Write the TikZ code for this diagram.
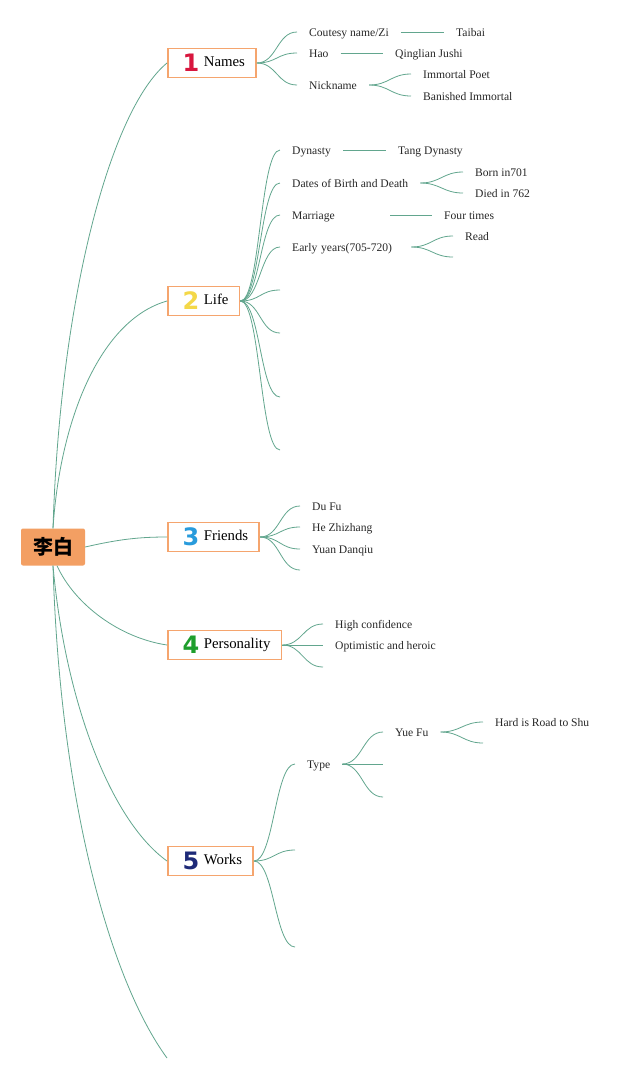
\documentclass[tikz,border=0pt]{standalone}
\usepackage{fontspec}
\setmainfont{Liberation Serif}
\newfontfamily\cjk{Noto Sans CJK SC}
\newfontfamily\numfont{DejaVu Sans}
\usetikzlibrary{positioning}

\definecolor{linkcol}{RGB}{98,166,142}
\definecolor{rootcol}{RGB}{243,159,99}
\definecolor{boxcol}{RGB}{245,165,110}
\definecolor{txtcol}{RGB}{40,40,40}
\definecolor{onecol}{RGB}{216,22,62}
\definecolor{twocol}{RGB}{244,216,72}
\definecolor{threecol}{RGB}{40,155,220}
\definecolor{fourcol}{RGB}{30,158,44}
\definecolor{fivecol}{RGB}{30,42,120}

\newcommand{\tnum}[2]{\hspace{5pt}\makebox[14pt]{\raisebox{-5pt}{\numfont\bfseries\fontsize{24}{24}\selectfont\textcolor{#1}{#2}}}\hspace{6pt}}

\begin{document}
\begin{tikzpicture}[x=1pt,y=1pt,
		link/.style={draw=linkcol,line width=0.8pt},
		root/.style={fill=rootcol,rounded corners=2pt,minimum width=64pt,minimum height=37pt,inner sep=0pt,font=\cjk\bfseries\fontsize{20}{20}\selectfont},
		topic/.style={draw=boxcol,line width=1.7pt,fill=white,anchor=west,minimum height=29pt,inner xsep=11pt,inner ysep=2pt,font=\fontsize{14.8}{16}\selectfont},
		item/.style={anchor=west,inner xsep=12pt,inner ysep=1pt,text height=10.5pt,text depth=1.5pt,text=txtcol,font=\fontsize{11.6}{13}\selectfont},
		wide/.style={text width=#1,align=left}]
		
		\path[fill=white,use as bounding box] (0,0) rectangle (640,-1080);
		
		%root
		\node[root] (root) at (53,-547) {李白};
		
		%topics
		\node[topic] (names) at (167,-63) {\tnum{onecol}{1}Names};
		\node[topic] (life) at (167,-301) {\tnum{twocol}{2}Life};
		\node[topic] (friends) at (167,-537) {\tnum{threecol}{3}Friends};
		\node[topic] (person) at (167,-645) {\tnum{fourcol}{4}Personality};
		\node[topic] (works) at (167,-861) {\tnum{fivecol}{5}Works};
		\coordinate (bottom) at (167,-1058);
		
		%root to topics
		\draw[link] (root.north) .. controls (60,-300) and (110,-110) .. (names.west);
		\draw[link] (root.north) .. controls (60,-420) and (100,-320) .. (life.west);
		\draw[link] (root.east) .. controls (120,-539) and (140,-537) .. (friends.west);
		\draw[link] ([xshift=4pt]root.south) .. controls (75,-605) and (120,-638) .. (person.west);
		\draw[link] (root.south) .. controls (65,-700) and (110,-820) .. (works.west);
		\draw[link] (root.south) .. controls (60,-800) and (110,-980) .. (bottom);
		
		%Names
		\node[item] (cz) at (297,-32) {Coutesy name/Zi};
		\node[item] (hao) at (297,-53) {Hao};
		\node[item] (nick) at (297,-85) {Nickname};
		\node[item] (taibai) at (444,-32) {Taibai};
		\node[item] (qinglian) at (383,-53) {Qinglian Jushi};
		\node[item] (poet) at (411,-74) {Immortal Poet};
		\node[item] (banished) at (411,-96) {Banished Immortal};
		\foreach \c in {cz,hao,nick}
			\draw[link] (names.east) .. controls +(20,0) and +(-20,0) .. (\c.west);
		\draw[link] (cz) -- (taibai);
		\draw[link] (hao) -- (qinglian);
		\foreach \c in {poet,banished}
			\draw[link] (nick.east) .. controls +(20,0) and +(-20,0) .. (\c.west);
		
		%Life
		\node[item] (dynasty) at (280,-150) {Dynasty};
		\node[item] (dates) at (280,-183) {Dates of Birth and Death};
		\node[item,wide=86pt] (marriage) at (280,-215) {Marriage};
		\node[item,wide=107pt] (early) at (280,-247) {Early years(705-720)};
		\coordinate (l5) at (280,-290);
		\coordinate (l6) at (280,-333);
		\coordinate (l7) at (280,-397);
		\coordinate (l8) at (280,-450);
		\node[item] (tang) at (386,-150) {Tang Dynasty};
		\node[item] (born) at (463,-172) {Born in701};
		\node[item] (died) at (463,-193) {Died in 762};
		\node[item] (four) at (432,-215) {Four times};
		\node[item] (read) at (453,-236) {Read};
		\coordinate (r2) at (453,-257);
		\foreach \c in {dynasty,dates,marriage,early}
			\draw[link] (life.east) .. controls +(20,0) and +(-20,0) .. (\c.west);
		\foreach \c in {l5,l6,l7,l8}
			\draw[link] (life.east) .. controls +(20,0) and +(-20,0) .. (\c);
		\draw[link] (dynasty) -- (tang);
		\draw[link] (marriage) -- (four);
		\foreach \c in {born,died}
			\draw[link] (dates.east) .. controls +(20,0) and +(-20,0) .. (\c.west);
		\draw[link] (early.east) .. controls +(20,0) and +(-20,0) .. (read.west);
		\draw[link] (early.east) .. controls +(20,0) and +(-20,0) .. (r2);
		
		%Friends
		\node[item] (dufu) at (300,-506) {Du Fu};
		\node[item] (hezz) at (300,-527) {He Zhizhang};
		\node[item] (yuan) at (300,-549) {Yuan Danqiu};
		\coordinate (f4) at (300,-570);
		\foreach \c in {dufu,hezz,yuan}
			\draw[link] (friends.east) .. controls +(20,0) and +(-20,0) .. (\c.west);
		\draw[link] (friends.east) .. controls +(20,0) and +(-20,0) .. (f4);
		
		%Personality
		\node[item] (high) at (323,-624) {High confidence};
		\node[item] (opt) at (323,-645) {Optimistic and heroic};
		\coordinate (p3) at (323,-667);
		\foreach \c in {high,opt}
			\draw[link] (person.east) .. controls +(20,0) and +(-20,0) .. (\c.west);
		\draw[link] (person.east) .. controls +(20,0) and +(-20,0) .. (p3);
		
		%Works
		\node[item] (type) at (295,-764) {Type};
		\coordinate (w2) at (295,-850);
		\coordinate (w3) at (295,-947);
		\node[item] (yuefu) at (383,-732) {Yue Fu};
		\coordinate (t2) at (383,-764);
		\coordinate (t3) at (383,-797);
		\node[item] (hard) at (483,-722) {Hard is Road to Shu};
		\coordinate (y2) at (483,-743);
		\draw[link] (works.east) .. controls +(20,0) and +(-20,0) .. (type.west);
		\foreach \c in {w2,w3}
			\draw[link] (works.east) .. controls +(20,0) and +(-20,0) .. (\c);
		\draw[link] (type.east) .. controls +(20,0) and +(-20,0) .. (yuefu.west);
		\foreach \c in {t2,t3}
			\draw[link] (type.east) .. controls +(20,0) and +(-20,0) .. (\c);
		\draw[link] (yuefu.east) .. controls +(20,0) and +(-20,0) .. (y2);
		\draw[link] (yuefu.east) .. controls +(20,0) and +(-20,0) .. (hard.west);
\end{tikzpicture}
\end{document}
